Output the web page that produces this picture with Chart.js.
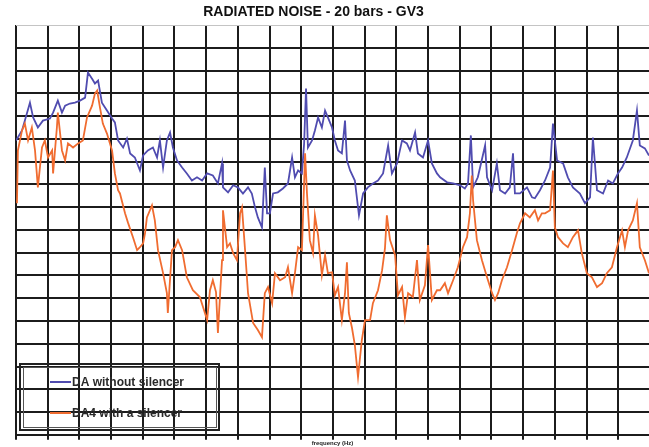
<!DOCTYPE html>
<html>
<head>
<meta charset="utf-8">
<script src="https://cdn.jsdelivr.net/npm/chart.js@4/dist/chart.umd.min.js"></script>
<style>
  html, body { margin: 0; padding: 0; background: #fff; overflow: hidden; }
</style>
</head>
<body>
<canvas id="noiseChart" width="649" height="447"></canvas>
<script>
// values, in grid divisions (no tick labels on the original)
const seriesLabels = ['DA without silencer', 'DA4 with a silencer']
const xTicks = [0,1,2,3,4,5,6,7,8,9,10,11,12,13,14,15,16,17,18,19]
const yTicks = [0,1,2,3,4,5,6,7,8,9,10,11,12,13,14,15,16,17,18]

const freqWithout = [
  0,0.19,0.44,0.54,0.69,0.85,1.07,1.17,1.32,1.45,
  1.55,1.70,1.86,2.02,2.18,2.27,2.40,2.49,2.59,2.71,
  2.87,3.03,3.12,3.22,3.38,3.50,3.60,3.75,3.91,4.01,
  4.16,4.32,4.45,4.54,4.64,4.76,4.86,4.95,5.08,5.24,
  5.39,5.55,5.71,5.87,6.03,6.21,6.37,6.50,6.53,6.69,
  6.85,7.00,7.16,7.32,7.44,7.54,7.63,7.76,7.85,7.92,
  8.01,8.11,8.26,8.42,8.58,8.71,8.80,8.90,9.02,9.09,
  9.15,9.21,9.34,9.43,9.53,9.65,9.75,9.84,9.97,10.06,
  10.16,10.28,10.38,10.44,10.54,10.69,10.82,10.95,11.10,11.26,
  11.42,11.58,11.74,11.86,12.02,12.18,12.33,12.43,12.59,12.68,
  12.84,13.00,13.12,13.28,13.38,13.60,13.79,14.01,14.16,14.26,
  14.35,14.42,14.57,14.80,14.86,15.02,15.17,15.27,15.43,15.58,
  15.68,15.74,15.90,16.12,16.28,16.37,16.53,16.69,16.85,16.94,
  17.07,17.26,17.41,17.57,17.79,17.95,18.11,18.20,18.33,18.52,
  18.68,18.83,18.99,19.12,19.27,19.46,19.59,19.68,19.84,19.97
]
const levelWithout = [
  12.93,13.37,14.59,13.94,13.50,13.80,13.89,14.15,14.68,14.15,
  14.46,14.55,14.59,14.68,14.81,15.91,15.64,15.43,15.56,14.59,
  14.24,13.89,13.72,12.93,12.62,13.01,12.36,12.18,11.61,12.27,
  12.49,12.62,12.18,12.93,11.74,12.93,13.28,12.62,12.05,11.74,
  11.48,11.17,11.31,11.17,11.48,11.39,11.04,11.92,10.87,10.65,
  10.96,10.87,10.60,10.87,10.60,9.99,9.55,9.11,11.74,9.73,
  9.73,10.60,10.65,10.82,11.04,12.18,11.31,11.61,11.48,12.80,
  15.21,12.62,12.93,13.37,13.94,13.50,14.24,13.94,13.50,12.93,
  12.49,12.36,13.80,12.05,11.61,11.17,9.64,10.60,10.87,11.04,
  11.17,11.48,12.71,11.48,11.92,12.93,12.80,12.49,13.28,12.36,
  12.18,12.93,11.92,11.48,11.31,11.09,11.04,10.96,10.82,11.04,
  13.15,10.87,11.31,12.71,11.31,10.74,11.92,10.74,10.60,10.87,
  12.36,10.60,10.60,10.87,10.43,10.39,10.74,11.17,11.74,13.67,
  12.05,11.92,11.31,10.87,10.60,10.17,10.43,13.06,10.74,10.60,
  11.17,11.04,11.48,11.74,12.18,12.93,14.24,12.71,12.58,12.27
]

const freqWith = [
  0.03,0.06,0.19,0.28,0.38,0.50,0.60,0.69,0.82,0.91,
  1.01,1.14,1.17,1.29,1.32,1.45,1.55,1.64,1.80,1.96,
  2.11,2.24,2.40,2.49,2.56,2.65,2.74,2.87,3.03,3.12,
  3.22,3.28,3.44,3.53,3.69,3.82,3.91,4.01,4.07,4.13,
  4.29,4.38,4.48,4.64,4.76,4.79,4.92,5.02,5.11,5.24,
  5.39,5.58,5.80,5.96,6.03,6.12,6.21,6.31,6.37,6.50,
  6.53,6.66,6.75,6.85,6.97,7.07,7.13,7.22,7.32,7.48,
  7.63,7.76,7.85,7.95,8.08,8.17,8.33,8.49,8.58,8.71,
  8.80,8.90,9.02,9.12,9.18,9.27,9.37,9.43,9.53,9.65,
  9.75,9.84,9.97,10.06,10.16,10.28,10.38,10.44,10.50,10.60,
  10.69,10.79,10.91,11.01,11.17,11.26,11.42,11.55,11.64,11.70,
  11.80,11.96,12.05,12.18,12.27,12.37,12.52,12.65,12.74,12.90,
  13.00,13.12,13.28,13.38,13.53,13.63,13.79,13.94,14.10,14.23,
  14.32,14.38,14.42,14.54,14.70,14.86,15.02,15.11,15.21,15.33,
  15.49,15.65,15.80,15.90,16.06,16.21,16.37,16.47,16.59,16.69,
  16.85,16.94,17.00,17.10,17.26,17.41,17.57,17.73,17.85,18.01,
  18.17,18.33,18.49,18.64,18.80,18.96,19.12,19.21,19.31,19.46,
  19.59,19.68,19.84,19.97
]
const levelWith = [
  10.17,12.49,13.37,13.67,12.93,13.50,12.49,10.87,12.62,12.93,
  12.18,12.49,11.48,13.50,14.15,12.49,12.05,12.80,12.62,12.80,
  12.93,13.94,14.46,14.99,15.12,14.37,13.67,13.23,12.49,11.48,
  10.74,10.60,9.73,9.33,8.68,8.11,8.24,8.41,8.85,9.55,
  10.08,9.42,8.11,7.10,6.22,5.35,8.11,8.24,8.55,8.11,
  6.92,6.35,6.05,5.35,5.04,6.35,6.79,6.27,4.47,7.67,
  9.86,8.24,8.41,7.98,7.67,9.73,9.99,8.24,6.22,4.91,
  4.60,4.29,6.22,6.49,5.78,7.10,6.79,6.92,7.36,6.22,
  7.10,8.24,8.11,12.36,10.60,8.55,7.98,9.64,8.76,7.01,
  7.89,7.10,7.14,6.13,6.49,5.04,6.22,7.58,5.35,4.69,
  3.94,2.54,4.16,5.04,5.04,5.78,6.35,7.23,8.19,9.64,
  8.55,7.89,6.13,6.49,5.17,6.22,6.05,7.67,5.92,6.57,
  8.33,5.92,6.35,6.35,6.66,6.22,6.79,7.36,8.24,8.68,
  9.73,11.39,10.30,8.55,7.67,6.92,6.22,5.92,6.22,6.79,
  7.36,8.11,8.85,9.29,9.73,9.55,9.86,9.42,9.73,9.73,
  9.86,11.61,9.11,8.68,8.41,8.24,8.68,8.98,7.98,7.10,
  6.92,6.49,6.66,7.10,7.36,8.24,8.98,8.24,8.98,9.42,
  10.17,8.24,7.67,7.10
]

function toPoints(xs, ys) {
  return xs.map((x, i) => ({ x: x, y: ys[i] }))
}

// legend box sits inside the plot, drawn by hand
const boxLegend = {
  id: 'boxLegend',
  afterDraw(chart) {
    const ctx = chart.ctx
    ctx.save()
    ctx.strokeStyle = '#222'
    ctx.lineWidth = 2
    ctx.strokeRect(20, 364, 199, 66)
    ctx.lineWidth = 1
    ctx.strokeStyle = '#555'
    ctx.strokeRect(23.5, 367.5, 193, 60)
    ctx.font = 'bold 12px "Liberation Sans", Arial, sans-serif'
    ctx.textBaseline = 'middle'
    chart.data.datasets.forEach((ds, i) => {
      const y = 382 + i * 31
      ctx.strokeStyle = ds.borderColor
      ctx.lineWidth = 2
      ctx.beginPath()
      ctx.moveTo(50, y)
      ctx.lineTo(71, y)
      ctx.stroke()
      ctx.fillStyle = '#2a2a2a'
      ctx.fillText(ds.label, 72, y + 1)
    })
    ctx.restore()
  }
}

const ctx = document.getElementById('noiseChart').getContext('2d')
new Chart(ctx, {
  type: 'line',
  data: {
    datasets: [
      {
        label: seriesLabels[0],
        data: toPoints(freqWithout, levelWithout),
        borderColor: 'rgb(80,76,176)',
        borderWidth: 1.8,
        pointRadius: 0,
        fill: false,
        order: 1
      },
      {
        label: seriesLabels[1],
        data: toPoints(freqWith, levelWith),
        borderColor: 'rgb(240,108,48)',
        borderWidth: 1.8,
        pointRadius: 0,
        fill: false,
        order: 0
      }
    ]
  },
  plugins: [boxLegend],
  options: {
    responsive: false,
    animation: false,
    layout: { padding: { left: -22, right: 0, top: 0, bottom: 0 } },
    plugins: {
      legend: { display: false },
      tooltip: { enabled: false },
      title: {
        display: true,
        text: 'RADIATED NOISE - 20 bars - GV3',
        color: '#111',
        font: { family: '"Liberation Sans", Arial, sans-serif', size: 14, weight: 'bold' },
        padding: { top: 4, bottom: 4.2 }
      }
    },
    scales: {
      x: {
        type: 'linear',
        min: 0,
        max: 19.97,
        afterBuildTicks: axis => { axis.ticks = xTicks.map(v => ({ value: v })) },
        ticks: { display: false },
        border: { display: false },
        grid: { color: '#1c1c1c', lineWidth: 2, tickLength: 5 },
        title: {
          display: true,
          text: 'frequency (Hz)',
          color: '#222',
          font: { family: '"Liberation Sans", Arial, sans-serif', size: 6, weight: 'bold' },
          padding: 0
        }
      },
      y: {
        type: 'linear',
        min: 0,
        max: 18,
        afterBuildTicks: axis => { axis.ticks = yTicks.map(v => ({ value: v })) },
        afterFit: axis => { axis.width = 38 },
        ticks: { display: false },
        border: { display: false },
        grid: {
          drawTicks: false,
          color: c => c.tick && c.tick.value === 18 ? '#c4c4c4' : '#1c1c1c',
          lineWidth: c => c.tick && c.tick.value === 18 ? 1 : 2
        }
      }
    }
  }
})
</script>
</body>
</html>
